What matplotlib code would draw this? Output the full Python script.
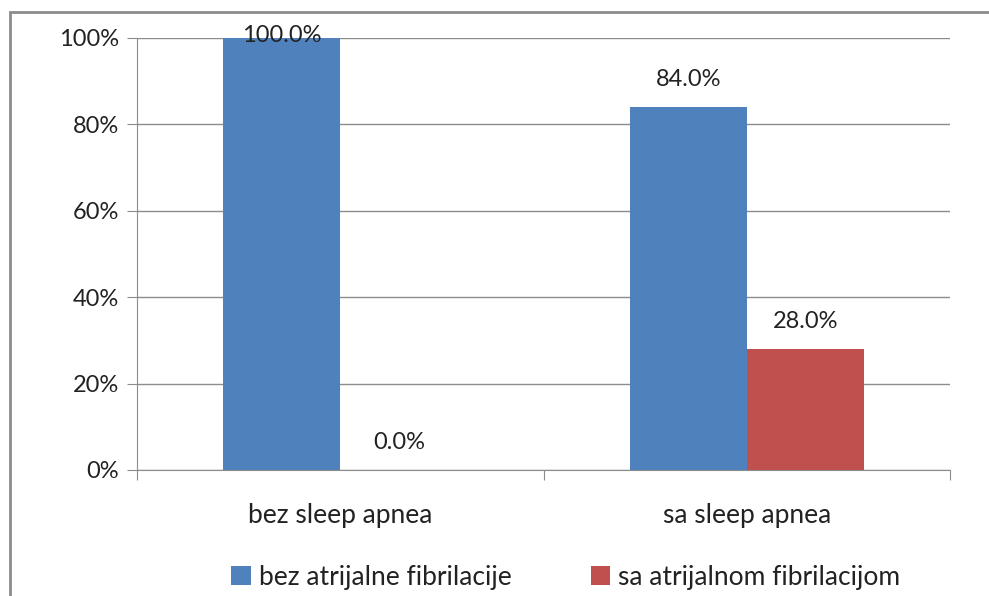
import matplotlib.pyplot as plt
from matplotlib.patches import Rectangle
from matplotlib.ticker import FuncFormatter

plt.rcParams['font.family'] = ['Lato', 'DejaVu Sans']

categories = ['bez sleep apnea', 'sa sleep apnea']
series_names = ['bez atrijalne fibrilacije', 'sa atrijalnom fibrilacijom']
bez_af = [100.0, 84.0]
sa_af = [0.0, 28.0]
colors = ['#4f81bd', '#c0504d']

fs = 17
fig = plt.figure(figsize=(9.89, 5.96), dpi=100)
ax = fig.add_axes([137 / 989, 1 - 470 / 596, (950 - 137) / 989, (470 - 38) / 596])

# outer chart border (Excel style)
fig.patches.append(Rectangle((10 / 989, -0.1), 1.2, 1 - 12 / 596 + 0.1,
                             transform=fig.transFigure, fill=False,
                             edgecolor='#8c8c8c', linewidth=2))

w = 0.288
xs = range(len(categories))
ax.bar([x - w / 2 for x in xs], bez_af, w, color=colors[0], label=series_names[0], zorder=3)
ax.bar([x + w / 2 for x in xs], sa_af, w, color=colors[1], label=series_names[1], zorder=3)

# labels sit ~27px above the bar, but stay inside the plot area
for off, vals in ((-w / 2, bez_af), (w / 2, sa_af)):
    for x, v in zip(xs, vals):
        ax.text(x + off, min(v + 6.3, 100.5), f'{v:.1f}%', ha='center', va='center',
                fontsize=fs, color='#222222', zorder=4)

ax.set_xlim(-0.5, 1.5)
ax.set_ylim(0, 100)
ax.set_yticks(range(0, 101, 20))
ax.yaxis.set_major_formatter(FuncFormatter(lambda v, p: f'{int(v)}%'))
ax.yaxis.grid(True, color='#8c8c8c', linewidth=1, zorder=0)
ax.set_axisbelow(True)

ax.set_xticks([-0.5, 0.5, 1.5])
ax.set_xticklabels([])
ax.set_xticks(list(xs), minor=True)
ax.set_xticklabels(categories, minor=True)
ax.tick_params(axis='x', which='minor', length=0, pad=24, labelsize=19, labelcolor='#222222')
ax.tick_params(axis='x', which='major', length=7, color='#8c8c8c', direction='out')
ax.tick_params(axis='y', length=7, color='#8c8c8c', labelsize=fs, pad=6, labelcolor='#222222')

for s in ['top', 'right']:
    ax.spines[s].set_visible(False)
for s in ['left', 'bottom']:
    ax.spines[s].set_color('#8c8c8c')

leg = fig.legend(loc='center', bbox_to_anchor=(0.572, 1 - 577 / 596), ncol=2, frameon=False,
                 fontsize=19, handlelength=0.75, handleheight=0.75, handletextpad=0.3,
                 columnspacing=3.0)
for t in leg.get_texts():
    t.set_color('#222222')

fig.savefig('out.png', dpi=100)
